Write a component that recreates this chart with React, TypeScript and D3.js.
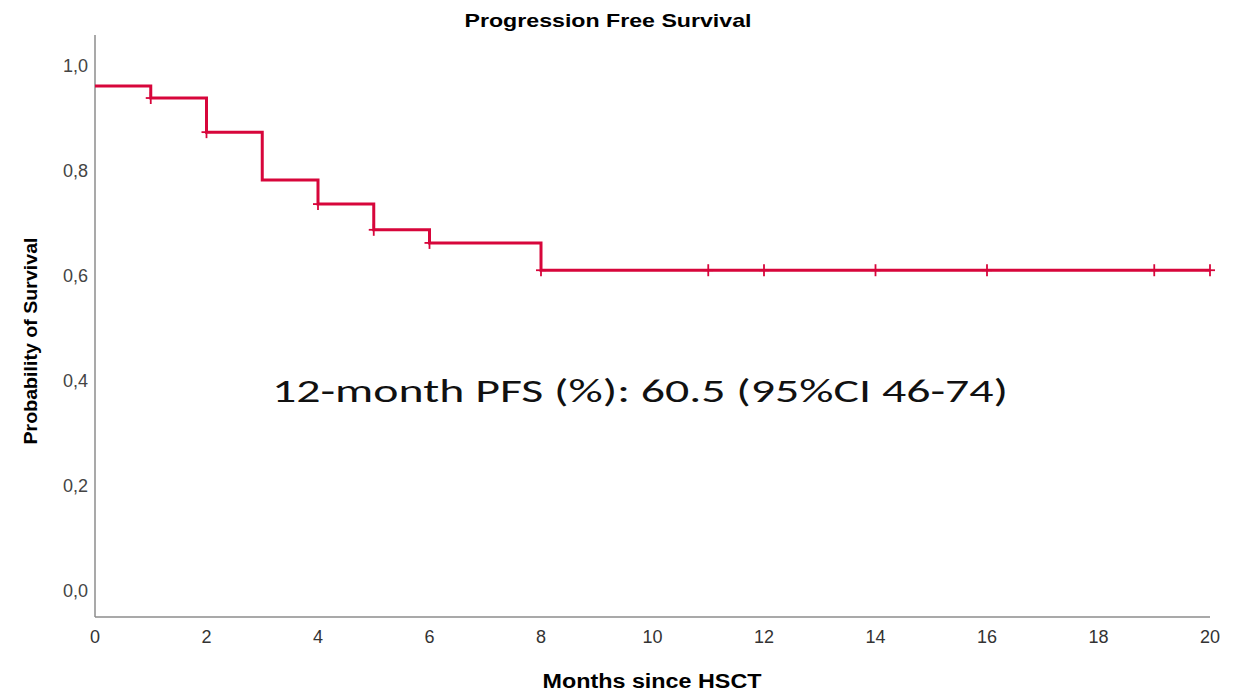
import React, { useEffect, useRef } from 'react'

import * as d3 from 'd3'

// Kaplan-Meier step estimate (time in months, survival probability)
const stepTimes = [0, 1, 2, 3, 4, 5, 6, 8]
const survival = [0.962, 0.939, 0.874, 0.783, 0.737, 0.688, 0.663, 0.611]
const censorTimes = [1, 2, 4, 5, 6, 8, 11, 12, 14, 16, 19, 20]
const xTicks = [0, 2, 4, 6, 8, 10, 12, 14, 16, 18, 20]
const yTicks = [0, 0.2, 0.4, 0.6, 0.8, 1.0]
const maxTime = 20

const title = 'Progression Free Survival'
const xLabel = 'Months since HSCT'
const yLabel = 'Probability of Survival'
const note = '12-month PFS (%): 60.5 (95%CI 46-74)'

const App = () => {
  const svgRef = useRef(null)

  useEffect(() => {
    if (!svgRef.current) return
    const svg = d3.select(svgRef.current)
    svg.selectAll('*').remove()

    const width = 1242
    const height = 692
    const lineColor = '#d7063b'
    const axisColor = '#8c8c8c'

    svg.attr('width', width).attr('height', height)

    const x = d3.scaleLinear().domain([0, maxTime]).range([95, 1210])
    const y = d3.scaleLinear().domain([0, 1]).range([591, 66])
    const axisTop = 35
    const axisBottom = 617

    // axis lines
    svg
      .append('line')
      .attr('x1', x(0))
      .attr('x2', x(0))
      .attr('y1', axisTop)
      .attr('y2', axisBottom)
      .attr('stroke', axisColor)
      .attr('stroke-width', 1.5)
    svg
      .append('line')
      .attr('x1', x(0))
      .attr('x2', x(maxTime))
      .attr('y1', axisBottom)
      .attr('y2', axisBottom)
      .attr('stroke', axisColor)
      .attr('stroke-width', 1.5)

    // tick labels
    svg
      .append('g')
      .selectAll('text')
      .data(xTicks)
      .join('text')
      .attr('x', (d) => x(d))
      .attr('y', 643)
      .attr('text-anchor', 'middle')
      .attr('font-family', "'Liberation Sans', Arial, sans-serif")
      .attr('font-size', 18)
      .attr('fill', '#333')
      .text((d) => d)

    svg
      .append('g')
      .selectAll('text')
      .data(yTicks)
      .join('text')
      .attr('x', 88)
      .attr('y', (d) => y(d))
      .attr('dy', '0.36em')
      .attr('text-anchor', 'end')
      .attr('font-family', "'Liberation Sans', Arial, sans-serif")
      .attr('font-size', 18)
      .attr('fill', '#444')
      .text((d) => d3.format('.1f')(d).replace('.', ','))

    // survival curve
    const points: [number, number][] = stepTimes.map((t, i) => [t, survival[i]])
    points.push([maxTime, survival[survival.length - 1]])
    const line = d3
      .line<[number, number]>()
      .x((d) => x(d[0]))
      .y((d) => y(d[1]))
      .curve(d3.curveStepAfter)

    svg
      .append('path')
      .datum(points)
      .attr('d', line)
      .attr('fill', 'none')
      .attr('stroke', lineColor)
      .attr('stroke-width', 3)

    // censor marks
    const survAt = (t: number) => {
      let s = survival[0]
      stepTimes.forEach((st, i) => {
        if (st <= t) s = survival[i]
      })
      return s
    }
    const marks = svg.append('g').attr('stroke', lineColor).attr('stroke-width', 1.8)
    censorTimes.forEach((t) => {
      const cx = x(t)
      const cy = y(survAt(t))
      marks.append('line').attr('x1', cx).attr('x2', cx).attr('y1', cy - 6).attr('y2', cy + 6)
      marks.append('line').attr('x1', cx - 5).attr('x2', cx + 5).attr('y1', cy).attr('y2', cy)
    })

    // titles
    svg
      .append('text')
      .attr('x', 608)
      .attr('y', 27)
      .attr('text-anchor', 'middle')
      .attr('font-family', "'Liberation Sans', Arial, sans-serif")
      .attr('font-weight', 'bold')
      .attr('font-size', 19)
      .attr('textLength', 287)
      .attr('lengthAdjust', 'spacingAndGlyphs')
      .text(title)

    svg
      .append('text')
      .attr('x', 652)
      .attr('y', 688)
      .attr('text-anchor', 'middle')
      .attr('font-family', "'Liberation Sans', Arial, sans-serif")
      .attr('font-weight', 'bold')
      .attr('font-size', 20)
      .attr('textLength', 219)
      .attr('lengthAdjust', 'spacingAndGlyphs')
      .text(xLabel)

    svg
      .append('text')
      .attr('transform', 'translate(37,341) rotate(-90)')
      .attr('text-anchor', 'middle')
      .attr('font-family', "'Liberation Sans', Arial, sans-serif")
      .attr('font-weight', 'bold')
      .attr('font-size', 19)
      .attr('textLength', 207)
      .attr('lengthAdjust', 'spacingAndGlyphs')
      .text(yLabel)

    // annotation
    svg
      .append('text')
      .attr('x', 272)
      .attr('y', 402)
      .attr('font-family', "Carlito, Calibri, 'Open Sans', sans-serif")
      .attr('font-size', 33)
      .attr('textLength', 736)
      .attr('lengthAdjust', 'spacingAndGlyphs')
      .attr('fill', '#111')
      .text(note)
  }, [])

  return (
    <svg
      ref={svgRef}
      style={{ position: 'absolute', left: 0, top: 0, background: '#fff' }}
    ></svg>
  )
}

export default App
